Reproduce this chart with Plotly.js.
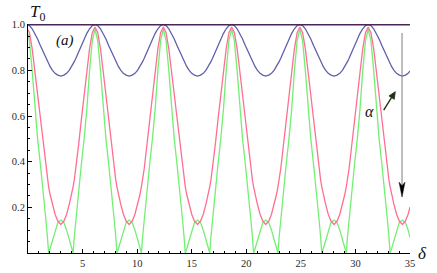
<!DOCTYPE html>
<html>
<head>
<meta charset="utf-8">
<script src="https://cdn.plot.ly/plotly-3.0.1.min.js"></script>
<style>html,body{margin:0;padding:0;background:#fff;}#chart{width:437px;height:273px;}</style>
</head>
<body>
<div id="chart"></div>
<script>
// delta values (x)
const delta = [
  0.00, 0.13, 0.38, 0.63, 0.88, 1.13, 1.38, 1.63, 1.78, 1.89, 2.03, 2.23, 2.48, 2.73, 3.01, 3.29, 3.54, 3.79, 3.99, 4.13, 4.24, 4.39, 4.64, 4.89, 5.14, 5.39, 5.64, 5.89,
  6.14, 6.39, 6.64, 6.89, 7.14, 7.39, 7.64, 7.89, 8.04, 8.15, 8.29, 8.49, 8.74, 8.99, 9.27, 9.55, 9.80, 10.05, 10.25, 10.39, 10.50, 10.65, 10.90, 11.15, 11.40, 11.65, 11.90, 12.15,
  12.40, 12.65, 12.90, 13.15, 13.40, 13.65, 13.90, 14.15, 14.30, 14.41, 14.55, 14.75, 15.00, 15.25, 15.53, 15.81, 16.06, 16.31, 16.51, 16.65, 16.76, 16.91, 17.16, 17.41, 17.66, 17.91, 18.16, 18.41,
  18.66, 18.91, 19.16, 19.41, 19.66, 19.91, 20.16, 20.41, 20.56, 20.67, 20.81, 21.01, 21.26, 21.51, 21.78, 22.06, 22.31, 22.56, 22.76, 22.90, 23.01, 23.16, 23.41, 23.66, 23.91, 24.16, 24.41, 24.66,
  24.91, 25.16, 25.41, 25.66, 25.91, 26.16, 26.41, 26.66, 26.81, 26.92, 27.06, 27.26, 27.51, 27.76, 28.04, 28.32, 28.57, 28.82, 29.02, 29.16, 29.27, 29.42, 29.67, 29.92, 30.17, 30.42, 30.67, 30.92,
  31.17, 31.42, 31.67, 31.92, 32.17, 32.42, 32.67, 32.92, 33.07, 33.18, 33.32, 33.52, 33.77, 34.02, 34.30, 34.58, 34.83, 35.00
];
// T0 curves
const tBlue = [
  0.999, 0.996, 0.982, 0.962, 0.937, 0.909, 0.881, 0.853, 0.838, 0.828, 0.816, 0.801, 0.787, 0.779, 0.775, 0.779, 0.787, 0.801, 0.816, 0.828, 0.838, 0.853, 0.881, 0.909, 0.937, 0.962, 0.982, 0.996,
  1.000, 0.996, 0.982, 0.962, 0.937, 0.909, 0.881, 0.853, 0.838, 0.828, 0.816, 0.801, 0.787, 0.779, 0.775, 0.779, 0.787, 0.801, 0.816, 0.828, 0.838, 0.853, 0.881, 0.909, 0.937, 0.962, 0.982, 0.996,
  1.000, 0.996, 0.982, 0.962, 0.937, 0.909, 0.881, 0.853, 0.838, 0.828, 0.816, 0.801, 0.787, 0.779, 0.775, 0.779, 0.787, 0.801, 0.816, 0.828, 0.838, 0.853, 0.881, 0.909, 0.937, 0.962, 0.982, 0.996,
  1.000, 0.996, 0.982, 0.962, 0.937, 0.909, 0.881, 0.853, 0.838, 0.828, 0.816, 0.801, 0.787, 0.779, 0.775, 0.779, 0.787, 0.801, 0.816, 0.828, 0.838, 0.853, 0.881, 0.909, 0.937, 0.962, 0.982, 0.996,
  1.000, 0.996, 0.982, 0.962, 0.937, 0.909, 0.881, 0.853, 0.838, 0.828, 0.816, 0.801, 0.787, 0.779, 0.775, 0.779, 0.787, 0.801, 0.816, 0.828, 0.838, 0.853, 0.881, 0.909, 0.937, 0.962, 0.982, 0.996,
  1.000, 0.996, 0.982, 0.962, 0.937, 0.909, 0.881, 0.853, 0.838, 0.828, 0.816, 0.801, 0.787, 0.779, 0.775, 0.779, 0.787, 0.797
];
const tPink = [
  0.978, 0.965, 0.895, 0.795, 0.690, 0.585, 0.475, 0.370, 0.320, 0.290, 0.255, 0.215, 0.170, 0.140, 0.125, 0.140, 0.170, 0.215, 0.255, 0.290, 0.320, 0.370, 0.475, 0.585, 0.690, 0.795, 0.895, 0.965,
  0.990, 0.965, 0.895, 0.795, 0.690, 0.585, 0.475, 0.370, 0.320, 0.290, 0.255, 0.215, 0.170, 0.140, 0.125, 0.140, 0.170, 0.215, 0.255, 0.290, 0.320, 0.370, 0.475, 0.585, 0.690, 0.795, 0.895, 0.965,
  0.990, 0.965, 0.895, 0.795, 0.690, 0.585, 0.475, 0.370, 0.320, 0.290, 0.255, 0.215, 0.170, 0.140, 0.125, 0.140, 0.170, 0.215, 0.255, 0.290, 0.320, 0.370, 0.475, 0.585, 0.690, 0.795, 0.895, 0.965,
  0.990, 0.965, 0.895, 0.795, 0.690, 0.585, 0.475, 0.370, 0.320, 0.290, 0.255, 0.215, 0.170, 0.140, 0.125, 0.140, 0.170, 0.215, 0.255, 0.290, 0.320, 0.370, 0.475, 0.585, 0.690, 0.795, 0.895, 0.965,
  0.990, 0.965, 0.895, 0.795, 0.690, 0.585, 0.475, 0.370, 0.320, 0.290, 0.255, 0.215, 0.170, 0.140, 0.125, 0.140, 0.170, 0.215, 0.255, 0.290, 0.320, 0.370, 0.475, 0.585, 0.690, 0.795, 0.895, 0.965,
  0.990, 0.965, 0.895, 0.795, 0.690, 0.585, 0.475, 0.370, 0.320, 0.290, 0.255, 0.215, 0.170, 0.140, 0.125, 0.140, 0.170, 0.201
];
const tGreen = [
  0.960, 0.930, 0.800, 0.630, 0.500, 0.390, 0.280, 0.150, 0.070, 0.000, 0.020, 0.055, 0.100, 0.133, 0.144, 0.133, 0.100, 0.055, 0.020, 0.000, 0.070, 0.150, 0.280, 0.390, 0.500, 0.630, 0.800, 0.930,
  0.980, 0.930, 0.800, 0.630, 0.500, 0.390, 0.280, 0.150, 0.070, 0.000, 0.020, 0.055, 0.100, 0.133, 0.144, 0.133, 0.100, 0.055, 0.020, 0.000, 0.070, 0.150, 0.280, 0.390, 0.500, 0.630, 0.800, 0.930,
  0.980, 0.930, 0.800, 0.630, 0.500, 0.390, 0.280, 0.150, 0.070, 0.000, 0.020, 0.055, 0.100, 0.133, 0.144, 0.133, 0.100, 0.055, 0.020, 0.000, 0.070, 0.150, 0.280, 0.390, 0.500, 0.630, 0.800, 0.930,
  0.980, 0.930, 0.800, 0.630, 0.500, 0.390, 0.280, 0.150, 0.070, 0.000, 0.020, 0.055, 0.100, 0.133, 0.144, 0.133, 0.100, 0.055, 0.020, 0.000, 0.070, 0.150, 0.280, 0.390, 0.500, 0.630, 0.800, 0.930,
  0.980, 0.930, 0.800, 0.630, 0.500, 0.390, 0.280, 0.150, 0.070, 0.000, 0.020, 0.055, 0.100, 0.133, 0.144, 0.133, 0.100, 0.055, 0.020, 0.000, 0.070, 0.150, 0.280, 0.390, 0.500, 0.630, 0.800, 0.930,
  0.980, 0.930, 0.800, 0.630, 0.500, 0.390, 0.280, 0.150, 0.070, 0.000, 0.020, 0.055, 0.100, 0.133, 0.144, 0.133, 0.100, 0.069
];
const deltaFlat = [0, 35];
const tFlat = [1, 1];

const xTickVals = [5, 10, 15, 20, 25, 30, 35];
const xTickText = ['5', '10', '15', '20', '25', '30', '35'];
const yTickVals = [0.2, 0.4, 0.6, 0.8, 1.0];
const yTickText = ['0.2', '0.4', '0.6', '0.8', '1.0'];
const xMinor = [1,2,3,4,6,7,8,9,11,12,13,14,16,17,18,19,21,22,23,24,26,27,28,29,31,32,33,34];
const yMinor = [0.05,0.1,0.15,0.25,0.3,0.35,0.45,0.5,0.55,0.65,0.7,0.75,0.85,0.9,0.95];

const serif = 'Liberation Serif, Times New Roman, serif';
const lw = 1.3;
const traces = [
  {x: delta, y: tGreen, mode: 'lines', line: {color: '#74ee74', width: lw}, hoverinfo: 'skip'},
  {x: delta, y: tPink, mode: 'lines', line: {color: '#ff6f92', width: lw}, hoverinfo: 'skip'},
  {x: delta, y: tBlue, mode: 'lines', line: {color: '#5f5fab', width: lw}, hoverinfo: 'skip'},
  {x: deltaFlat, y: tFlat, mode: 'lines', line: {color: '#4a2656', width: 1.6}, hoverinfo: 'skip'}
];

const axisCommon = {
  showgrid: false, zeroline: false, showline: true, linecolor: '#000', linewidth: 1,
  ticks: 'inside', ticklen: 4, tickwidth: 1, tickcolor: '#000',
  tickfont: {family: serif, size: 10.5, color: '#2a2a2a'}, fixedrange: true
};

const layout = {
  width: 437, height: 273,
  margin: {l: 28, r: 27, t: 24, b: 20},
  paper_bgcolor: '#fff', plot_bgcolor: '#fff',
  showlegend: false,
  xaxis: Object.assign({}, axisCommon, {
    range: [0, 35], tickmode: 'array', tickvals: xTickVals, ticktext: xTickText,
    minor: {tickmode: 'array', tickvals: xMinor, ticks: 'inside', ticklen: 2, tickwidth: 1, tickcolor: '#000', showgrid: false}
  }),
  yaxis: Object.assign({}, axisCommon, {
    range: [0, 1.003], tickmode: 'array', tickvals: yTickVals, ticktext: yTickText,
    minor: {tickmode: 'array', tickvals: yMinor, ticks: 'inside', ticklen: 2, tickwidth: 1, tickcolor: '#000', showgrid: false}
  }),
  annotations: [
    {xref: 'paper', yref: 'paper', x: 0.0, y: 1.05, xanchor: 'left', yanchor: 'middle', showarrow: false,
     text: '<i>T</i><sub>0</sub>', font: {family: serif, size: 17, color: '#111'}},
    {xref: 'paper', yref: 'paper', x: 0.097, y: 0.926, xanchor: 'center', yanchor: 'middle', showarrow: false,
     text: '<i>(a)</i>', font: {family: serif, size: 15, color: '#111'}},
    {xref: 'paper', yref: 'paper', x: 0.894, y: 0.62, xanchor: 'center', yanchor: 'middle', showarrow: false,
     text: '<i>α</i>', font: {family: serif, size: 16, color: '#111'}},
    {xref: 'paper', yref: 'paper', x: 1.034, y: 0.0, xanchor: 'center', yanchor: 'middle', showarrow: false,
     text: '<i>δ</i>', font: {family: serif, size: 17, color: '#111'}}
  ],
  shapes: [
    // gray vertical arrow shaft
    {type: 'line', xref: 'x', yref: 'y', x0: 34.27, x1: 34.27, y0: 0.28, y1: 0.964,
     line: {color: '#8a8a8a', width: 1.1}},
    // its black head
    {type: 'path', xref: 'x', yref: 'y', path: 'M 34.27 0.245 L 34.0 0.31 L 34.27 0.295 L 34.54 0.31 Z',
     fillcolor: '#000', line: {color: '#000', width: 0.5}},
    // dark green arrow shaft
    {type: 'line', xref: 'x', yref: 'y', x0: 32.59, y0: 0.626, x1: 33.36, y1: 0.685,
     line: {color: '#1c3212', width: 1.4}},
    // dark green arrow head
    {type: 'path', xref: 'x', yref: 'y', path: 'M 33.65 0.7065 L 33.56 0.673 L 33.07 0.688 Z',
     fillcolor: '#1c3212', line: {color: '#1c3212', width: 0.8}}
  ]
};

Plotly.newPlot('chart', traces, layout, {staticPlot: true, displayModeBar: false});
</script>
</body>
</html>
